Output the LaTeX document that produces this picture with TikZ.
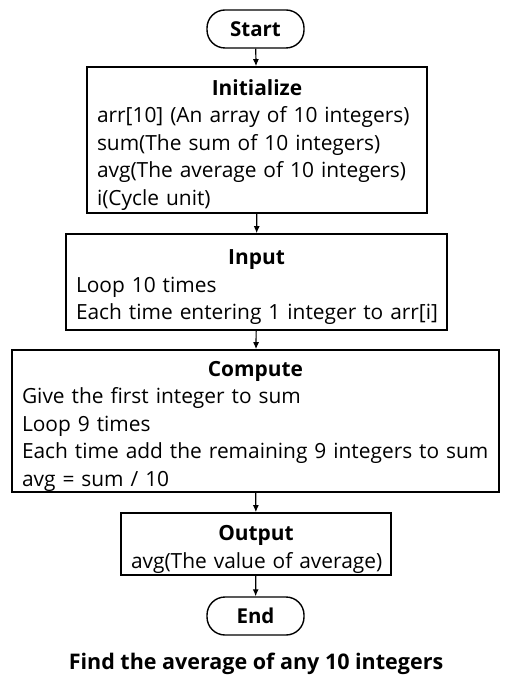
\documentclass[tikz,border=0pt]{standalone}
\usepackage{fontspec}
\setmainfont{Open Sans}
\usetikzlibrary{arrows.meta}
\hyphenpenalty=10000

\begin{document}
\begin{tikzpicture}[x=1pt, y=-1pt, font=\fontsize{20.9}{27.6}\selectfont,
  term/.style={rectangle, rounded corners=18pt, draw, line width=1.4pt, minimum width=97pt, minimum height=38pt, font=\fontsize{20.5}{23}\selectfont\bfseries},
  proc/.style={rectangle, draw, line width=1.6pt, align=left, inner sep=0pt,
    execute at begin node={\rightskip=-14pt plus 1fil}},
  flow/.style={-{Latex[length=7pt,width=6pt]}, line width=1.2pt}]
  \useasboundingbox (0,0) rectangle (512,684);

  \node[term] (start) at (255.5,29) {Start};
  \node[proc, minimum width=340pt, minimum height=146pt, text width=320pt] (init) at (257,140)
    {{\centering\bfseries\rule{0pt}{25.5pt}Initialize\par}
     arr[10] (An array of 10 integers)\\
     sum(The sum of 10 integers)\\
     avg(The average of 10 integers)\\
     i(Cycle unit)};
  \node[proc, minimum width=381pt, minimum height=96pt, text width=361pt] (input) at (256.5,282)
    {{\centering\bfseries\rule{0pt}{25.5pt}Input\par}
     Loop 10 times\\
     Each time entering 1 integer to arr[i]};
  \node[proc, minimum width=487pt, minimum height=142pt, text width=467pt] (compute) at (255.5,421)
    {{\centering\bfseries\rule{0pt}{25.5pt}Compute\par}
     Give the first integer to sum\\
     Loop 9 times\\
     Each time add the remaining 9 integers to sum\\
     avg = sum / 10};
  \node[proc, minimum width=270pt, minimum height=62pt, text width=250pt] (output) at (256,544)
    {{\centering\bfseries\rule{0pt}{25.5pt}Output\par}
     avg(The value of average)};
  \node[term] (end) at (255.5,616) {End};

  \node (caption) at (256,664) {\fontsize{21.5}{24}\selectfont\bfseries Find the average of any 10 integers};

  \draw[flow] (start) -- (init);
  \draw[flow] (init) -- (input);
  \draw[flow] (input) -- (compute);
  \draw[flow] (compute) -- (output);
  \draw[flow] (output) -- (end);
\end{tikzpicture}
\end{document}
